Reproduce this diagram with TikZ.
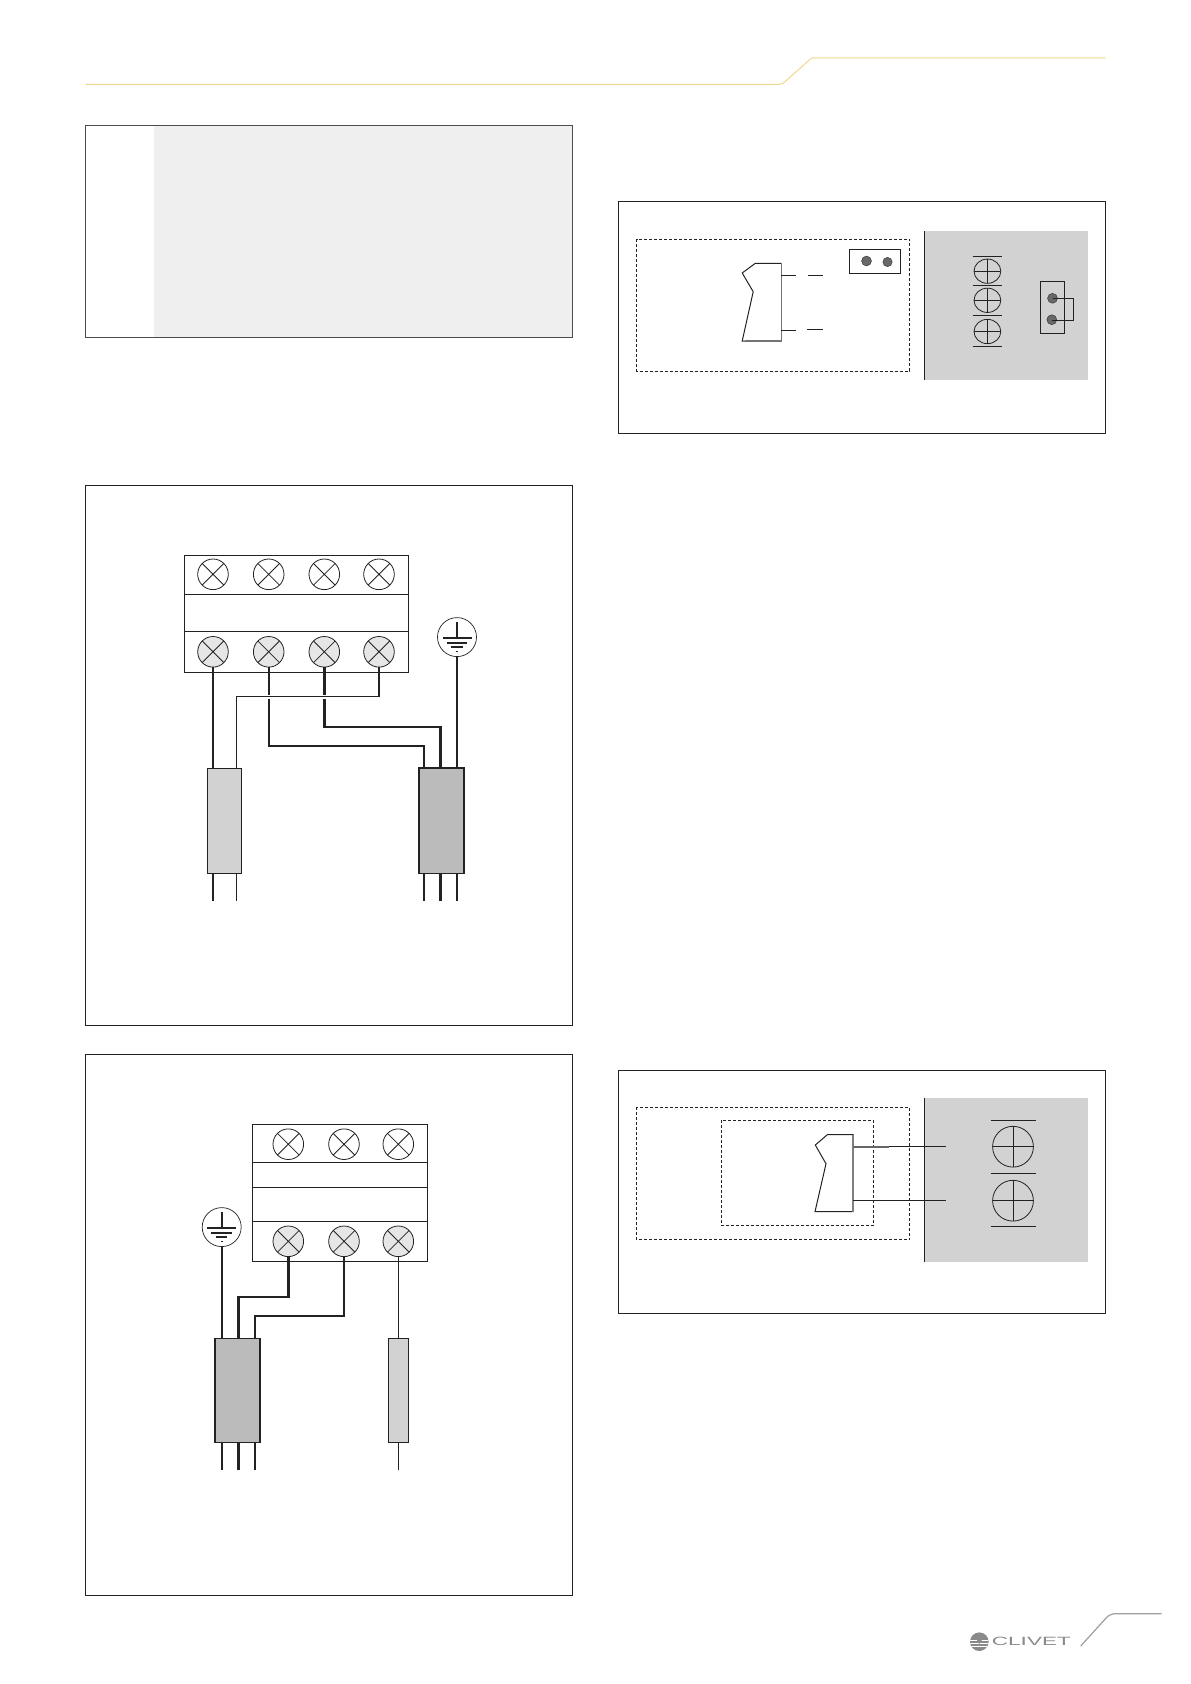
\documentclass[tikz,border=0pt]{standalone}
\usepackage{fontspec}
\usetikzlibrary{shapes.geometric}
\setmainfont{Liberation Sans}
\definecolor{inkline}{HTML}{222222}
\definecolor{boxgrey}{HTML}{EFEFEF}
\definecolor{padgrey}{HTML}{D2D2D2}
\definecolor{cablegrey}{HTML}{BBBBBB}
\definecolor{screwgrey}{HTML}{E6E6E6}
\definecolor{dotgrey}{HTML}{686868}
\definecolor{logogrey}{HTML}{8A8A8A}
\definecolor{headlow}{HTML}{F0D68C}
\definecolor{headhigh}{HTML}{F3E8BC}
\tikzset{
  panelbox/.style={draw=inkline,line width=1.2pt},
  dashbox/.style={draw=inkline,line width=1pt,dash pattern=on 3pt off 2pt},
  thinline/.style={draw=inkline,line width=1pt},
  wirethin/.style={draw=inkline,line width=1pt},
  wiremed/.style={draw=inkline,line width=1.6pt},
  wirethick/.style={draw=inkline,line width=2.4pt},
  termx/.style={circle,draw=inkline,line width=0.8pt,fill=white,minimum size=30.6pt,inner sep=0pt,outer sep=0pt,
    path picture={\draw[inkline,line width=0.8pt] (path picture bounding box.north west)--(path picture bounding box.south east)
      (path picture bounding box.north east)--(path picture bounding box.south west);}},
  termgrey/.style={termx,fill=screwgrey},
  termplus/.style={circle,draw=inkline,line width=0.8pt,minimum size=#1,inner sep=0pt,outer sep=0pt,
    path picture={\draw[inkline,line width=0.8pt] (path picture bounding box.north)--(path picture bounding box.south)
      (path picture bounding box.east)--(path picture bounding box.west);}},
  termflat/.style={ellipse,draw=inkline,line width=0.8pt,minimum width=26.8pt,minimum height=24.3pt,inner sep=0pt,outer sep=0pt,
    path picture={\draw[inkline,line width=0.8pt] (path picture bounding box.north)--(path picture bounding box.south)
      (path picture bounding box.east)--(path picture bounding box.west);}},
  earthring/.style={circle,draw=inkline,line width=0.7pt,fill=white,minimum size=39pt,inner sep=0pt,outer sep=0pt},
  cablelight/.style={rectangle,draw=inkline,line width=1pt,fill=padgrey,inner sep=0pt,outer sep=0pt},
  cabledark/.style={rectangle,draw=inkline,line width=1.8pt,fill=cablegrey,inner sep=0pt,outer sep=0pt},
  pindot/.style={circle,fill=dotgrey,draw=inkline,line width=0.3pt,minimum size=#1,inner sep=0pt,outer sep=0pt},
}
\newcommand{\earthmark}[1]{%
  \begin{scope}[shift={(#1)}]
    \draw[line width=2pt,inkline] (0,-15)--(0,1);
    \draw[line width=2pt,inkline] (-14.5,1)--(14.5,1);
    \draw[line width=1.8pt,inkline] (-10.3,5.8)--(10.3,5.8);
    \draw[line width=1.7pt,inkline] (-5.6,10)--(5.6,10);
    \draw[line width=1.7pt,inkline] (-1.2,14.3)--(1.2,14.3);
  \end{scope}}
\begin{document}
\begin{tikzpicture}[x=1pt,y=-1pt]
  \useasboundingbox (0,0) rectangle (1191,1684);
  % page head
  \draw[headlow,line width=1pt,rounded corners=3pt] (85.5,84.3)--(782,84.3)--(811,58.5);
  \draw[headhigh,line width=1.6pt,rounded corners=3pt] (811,58.5)--(814,57.7)--(1105.5,57.7);

  % shaded note box
  \fill[boxgrey] (153.7,125.7) rectangle (572.5,337.3);
  \draw[draw=black!70,line width=1.2pt] (85.5,125.7) rectangle (572.5,337.3);

  % four pole block
  \draw[panelbox] (85.5,485.4) rectangle (572.7,1025.3);
  \draw[thinline] (184.3,555.4) rectangle (408.3,672.5);
  \draw[thinline] (184.3,594.3)--(408.3,594.3);
  \draw[thinline] (184.3,631.4)--(408.3,631.4);
  \node[termx] (ta1) at (213,574.3) {};
  \node[termx] (ta2) at (268.7,574.3) {};
  \node[termx] (ta3) at (324.3,574.3) {};
  \node[termx] (ta4) at (379,574.3) {};
  \node[termgrey] (tb1) at (213,651.8) {};
  \node[termgrey] (tb2) at (268.7,651.8) {};
  \node[termgrey] (tb3) at (324.3,651.8) {};
  \node[termgrey] (tb4) at (379,651.8) {};
  \node[earthring] (gnda) at (457,637.1) {};
  \earthmark{gnda}
  \node[cablelight,minimum width=34.4pt,minimum height=105.2pt] (cablea) at (224.5,820.8) {};
  \node[cabledark,minimum width=45.6pt,minimum height=105.2pt] (cableb) at (441.5,820.8) {};
  \coordinate (ca1) at (213,768.2);
  \coordinate (ca2) at (236.3,768.2);
  \coordinate (cb1) at (424,768.2);
  \coordinate (cb2) at (440.3,768.2);
  \coordinate (cb3) at (457,768.2);
  \coordinate (bend2) at (424,746);
  \coordinate (bend3) at (440.3,727.1);
  \coordinate (bend4) at (236.3,696.8);
  \draw[wiremed] (tb1.south)--(ca1);
  \draw[wiremed] (tb2.south) |- (bend2)--(cb1);
  \draw[wirethick] (tb3.south) |- (bend3)--(cb2);
  \draw[white,line width=4.4pt] (tb4.south |- bend4)--(bend4);
  \draw[wirethin,line width=1.2pt] (tb4.south) |- (bend4)--(ca2);
  \draw[wiremed] (gnda.south)--(cb3);
  \coordinate (ea1) at (213,900.7);
  \coordinate (ea2) at (236.3,900.7);
  \coordinate (eb1) at (424,900.7);
  \coordinate (eb2) at (440.3,900.7);
  \coordinate (eb3) at (457,900.7);
  \draw[wiremed] (ea1)--(ea1 |- cablea.south);
  \draw[wirethin] (ea2)--(ea2 |- cablea.south);
  \draw[wiremed] (eb1)--(eb1 |- cableb.south);
  \draw[wirethick] (eb2)--(eb2 |- cableb.south);
  \draw[wiremed] (eb3)--(eb3 |- cableb.south);

  % three pole block
  \draw[panelbox] (85.5,1054.5) rectangle (572.7,1595.3);
  \draw[thinline] (252.3,1124.5) rectangle (427.3,1261.3);
  \draw[thinline] (252.3,1162.4)--(427.3,1162.4);
  \draw[thinline] (252.3,1187.5)--(427.3,1187.5);
  \draw[thinline] (252.3,1221.3)--(427.3,1221.3);
  \node[termx] (tc1) at (288.3,1144.2) {};
  \node[termx] (tc2) at (344,1144.2) {};
  \node[termx] (tc3) at (398.3,1144.2) {};
  \node[termgrey] (td1) at (288.3,1241.3) {};
  \node[termgrey] (td2) at (344,1241.3) {};
  \node[termgrey] (td3) at (398.3,1241.3) {};
  \node[earthring] (gndb) at (221.7,1227.1) {};
  \earthmark{gndb}
  \node[cabledark,minimum width=45.6pt,minimum height=104pt] (cablec) at (237.5,1390.4) {};
  \node[cablelight,minimum width=20pt,minimum height=104pt] (cabled) at (398.7,1390.4) {};
  \coordinate (cc1) at (221.7,1338.4);
  \coordinate (cc2) at (238.3,1338.4);
  \coordinate (cc3) at (255,1338.4);
  \coordinate (cd1) at (398.3,1338.4);
  \coordinate (bend5) at (238.3,1296.9);
  \coordinate (bend6) at (255,1315.8);
  \draw[wiremed] (gndb.south)--(cc1);
  \draw[wirethick] (td1.south) |- (bend5)--(cc2);
  \draw[wiremed] (td2.south) |- (bend6)--(cc3);
  \draw[wirethin] (td3.south)--(cd1);
  \coordinate (ec1) at (221.7,1470.4);
  \coordinate (ec2) at (238.3,1470.4);
  \coordinate (ec3) at (255,1470.4);
  \coordinate (ed1) at (398.3,1470.4);
  \draw[wiremed] (ec1)--(ec1 |- cablec.south);
  \draw[wirethick] (ec2)--(ec2 |- cablec.south);
  \draw[wiremed] (ec3)--(ec3 |- cablec.south);
  \draw[wirethin] (ed1)--(ed1 |- cabled.south);

  % jumper panel
  \draw[panelbox] (618.3,201.7) rectangle (1105.5,433.5);
  \draw[dashbox] (636.5,239.3) rectangle (909.6,371.3);
  \draw[thinline] (781.1,263.3)--(755.3,263.3)--(742.2,273)--(753.2,291.7)--(742.2,341)--(781.1,341);
  \draw[draw=black!55,line width=1.1pt] (781.1,263.3)--(781.1,341)--(745,341);
  \draw[thinline] (781,275.3)--(795.6,275.3);
  \draw[thinline] (808,275.3)--(823.1,275.3);
  \draw[thinline] (781,330.3)--(795.6,330.3);
  \draw[thinline] (807,329.3)--(822.8,329.3);
  \draw[thinline] (849.3,249.3) rectangle (900.6,273.7);
  \node[pindot=10pt] (dota) at (866.5,261) {};
  \node[pindot=9.4pt] (dotb) at (887.5,262) {};
  \fill[padgrey] (924.7,231) rectangle (1088,380);
  \draw[wirethin] (924.4,231)--(924.4,380);
  \draw[thinline] (972.6,256.3)--(1002.2,256.3);
  \draw[thinline] (972.6,285.3)--(1002.2,285.3);
  \draw[thinline] (972.6,315.3)--(1002.2,315.3);
  \draw[thinline] (972.6,346)--(1002.2,346);
  \node[termflat] (tpa) at (987.4,271.2) {};
  \node[termflat] (tpb) at (987.4,300.3) {};
  \node[termflat] (tpc) at (987.4,331.5) {};
  \draw[thinline] (1040.4,281.3) rectangle (1064.5,333.7);
  \node[pindot=10pt] (dotc) at (1052.5,298.3) {};
  \node[pindot=10pt] (dotd) at (1051.8,319.7) {};
  \coordinate (linka) at (1073.5,298.3);
  \coordinate (linkb) at (1073.5,320.7);
  \draw[thinline] (dotc.center)--(linka)--(linkb)--(dotd.center |- linkb);

  % plug panel
  \draw[panelbox] (618.3,1070.3) rectangle (1105.7,1313.7);
  \fill[padgrey] (924.7,1098) rectangle (1088,1262);
  \draw[wirethin] (924.4,1098)--(924.4,1262);
  \draw[dashbox] (636.3,1107.3) rectangle (909.7,1239.7);
  \draw[dashbox] (721.3,1120.3) rectangle (873.7,1225.3);
  \draw[thinline] (853,1134.7)--(827.3,1134.7)--(815.3,1145)--(826,1163.7)--(815,1211.7)--(853,1211.7)--cycle;
  \draw[draw=black!50,line width=1.1pt] (853,1134.7)--(853,1211.7);
  \draw[thinline] (990.7,1120.3)--(1036,1120.3);
  \draw[thinline] (990.7,1173.3)--(1036,1173.3);
  \draw[thinline] (990.7,1226.3)--(1036,1226.3);
  \node[termplus=40.8pt] (tpd) at (1013,1146.7) {};
  \node[termplus=40.8pt] (tpe) at (1013,1200.7) {};
  \coordinate (plga) at (853,1146.9);
  \coordinate (plgb) at (853,1200.7);
  \coordinate (enda) at (945.7,1146.9);
  \coordinate (endb) at (945.7,1200.7);
  \draw[thinline] (plga)--(enda);
  \draw[draw=black!60,line width=1.4pt] (plga)--(889,1146.9);
  \draw[thinline] (plgb)--(endb);

  % page foot
  \node[circle,fill=logogrey,minimum size=18.6pt,inner sep=0pt,
    path picture={\draw[white,line width=0.8pt] (-10,-1.8)--(10,-1.8) (-10,1.2)--(10,1.2) (-10,4.2)--(10,4.2);
      \fill[logogrey] (-3.6,-3.4)--(3.6,-3.4)--(0,2.2)--cycle;}] (logomark) at (979.3,1641.7) {};
  \node[right=0pt,inner sep=0pt,text=logogrey] (logotext) at (991.7,1641.7)
    {\scalebox{1.88}[1]{\fontsize{12}{12}\selectfont CLIVET}};
  \draw[black!38,line width=1.2pt,rounded corners=5pt] (1080.7,1646)--(1110,1613.7)--(1161.7,1613.7);
\end{tikzpicture}
\end{document}
